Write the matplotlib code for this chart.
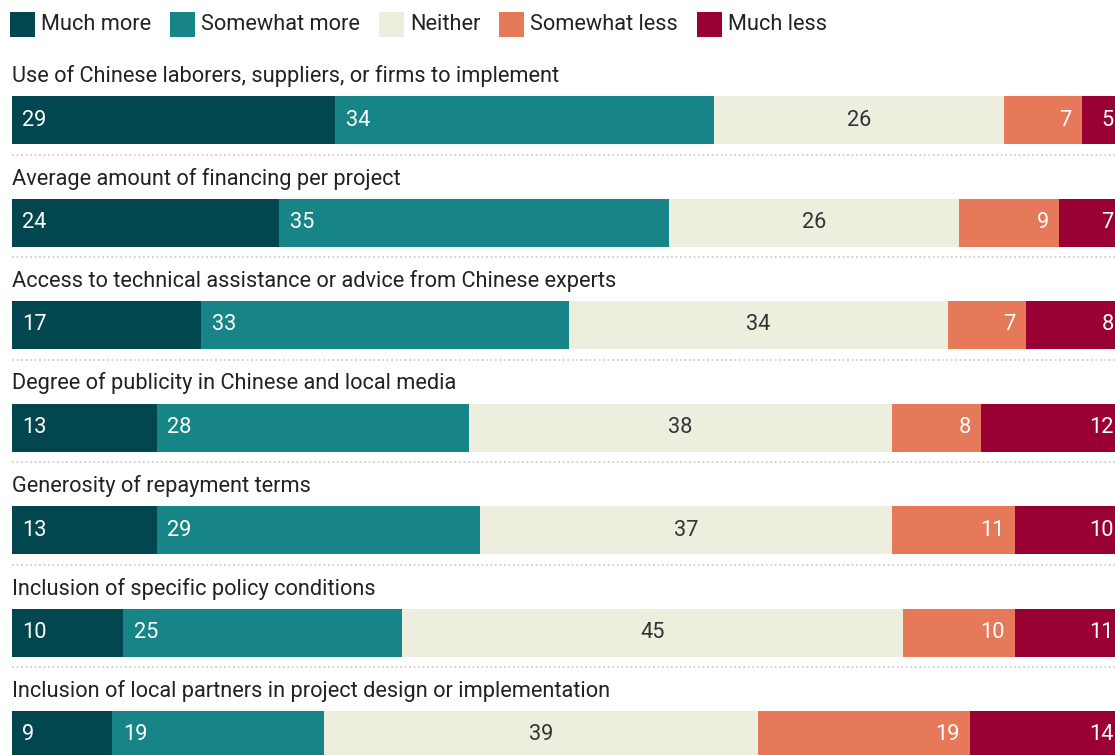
import matplotlib
matplotlib.use("Agg")
import matplotlib.pyplot as plt
from matplotlib.patches import Rectangle

plt.rcParams['font.family'] = ['Roboto', 'DejaVu Sans']

categories = [
    "Use of Chinese laborers, suppliers, or firms to implement",
    "Average amount of financing per project",
    "Access to technical assistance or advice from Chinese experts",
    "Degree of publicity in Chinese and local media",
    "Generosity of repayment terms",
    "Inclusion of specific policy conditions",
    "Inclusion of local partners in project design or implementation",
]
series_names = ["Much more", "Somewhat more", "Neither", "Somewhat less", "Much less"]
much_more = [29, 24, 17, 13, 13, 10, 9]
somewhat_more = [34, 35, 33, 28, 29, 25, 19]
neither = [26, 26, 34, 38, 37, 45, 39]
somewhat_less = [7, 9, 7, 8, 11, 10, 19]
much_less = [5, 7, 8, 12, 10, 11, 14]

colors = ["#02474f", "#178587", "#eeeedf", "#e5795a", "#990033"]
label_colors = ["white", "white", "#333333", "white", "white"]
text_color = "#222222"

W, H = 1115, 755
fig = plt.figure(figsize=(W / 100, H / 100), dpi=100)

left_px = 12
ax = fig.add_axes([left_px / W, 0, (W - left_px) / W, 1])
ax.set_xlim(0, 99)
ax.set_ylim(H, 0)
ax.axis("off")

pitch = 102.5
bar_top0 = 96
bar_h = 48
title_base0 = 82
sep0 = 154.5

series = [much_more, somewhat_more, neither, somewhat_less, much_less]
fs = 15.7

for i, cat in enumerate(categories):
    yc = bar_top0 + i * pitch + bar_h / 2
    ax.text(0, title_base0 + i * pitch, cat, fontsize=fs, color=text_color,
            va="baseline", ha="left")
    left = 0
    for s, vals in enumerate(series):
        v = vals[i]
        ax.barh(yc, v, left=left, height=bar_h, color=colors[s],
                edgecolor="none", linewidth=0)
        if s <= 1:
            ax.annotate(str(v), (left, yc), xytext=(7.5, 0),
                        textcoords="offset points", ha="left", va="center",
                        fontsize=fs, color=label_colors[s])
        elif s == 2:
            ax.text(left + v / 2, yc, str(v), ha="center", va="center",
                    fontsize=fs, color=label_colors[s])
        elif s == 3:
            ax.annotate(str(v), (left + v, yc), xytext=(-7.5, 0),
                        textcoords="offset points", ha="right", va="center",
                        fontsize=fs, color=label_colors[s])
        else:
            ax.annotate(str(v), (ax.get_xlim()[1], yc), xytext=(-1, 0),
                        textcoords="offset points", ha="right", va="center",
                        fontsize=fs, color=label_colors[s])
        left += v
    if i < len(categories) - 1:
        ax.plot([0, 99], [sep0 + i * pitch] * 2, color="#cfcfcf",
                linestyle=(0, (1, 1.5)), linewidth=1.3, solid_capstyle="butt")

# Legend row drawn in pixel space
renderer = fig.canvas.get_renderer()
x = 10
sq = 25
for name, c in zip(series_names, colors):
    fig.patches.append(Rectangle((x / W, 1 - 37 / H), sq / W, sq / H,
                                 transform=fig.transFigure, facecolor=c,
                                 edgecolor="none"))
    t = fig.text((x + sq + 6) / W, 1 - 24.5 / H, name, fontsize=fs,
                 color=text_color, va="center", ha="left")
    bb = t.get_window_extent(renderer=renderer)
    x = bb.x1 + 19

fig.savefig("out.png", dpi=100, facecolor="white")
